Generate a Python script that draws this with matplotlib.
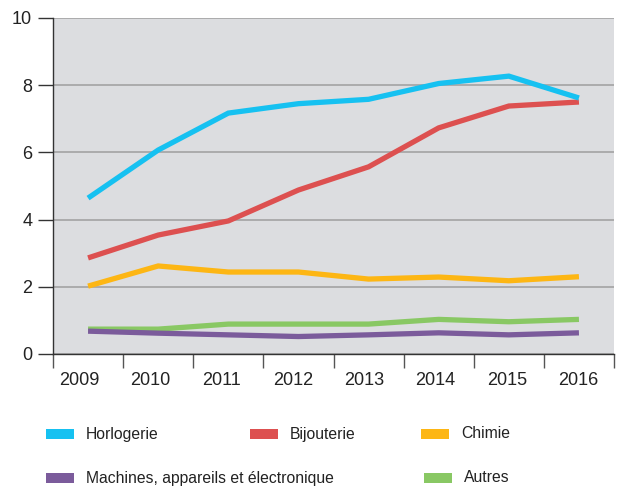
import matplotlib
matplotlib.use("Agg")
import matplotlib.pyplot as plt
from matplotlib.patches import Rectangle
from matplotlib import font_manager

years = ["2009", "2010", "2011", "2012", "2013", "2014", "2015", "2016"]
horlogerie = [4.64, 6.07, 7.17, 7.45, 7.58, 8.05, 8.27, 7.62]
bijouterie = [2.86, 3.54, 3.96, 4.88, 5.57, 6.73, 7.38, 7.50]
chimie = [2.02, 2.62, 2.44, 2.44, 2.23, 2.29, 2.18, 2.30]
machines = [0.68, 0.62, 0.57, 0.52, 0.57, 0.63, 0.57, 0.63]
autres = [0.74, 0.74, 0.89, 0.89, 0.89, 1.03, 0.96, 1.03]

names = ["Horlogerie", "Bijouterie", "Chimie",
         "Machines, appareils et électronique", "Autres"]
colors = ["#16c1f1", "#dd5050", "#fdb614", "#7b5b9b", "#89c864"]
series = [horlogerie, bijouterie, chimie, machines, autres]

plt.rcParams['font.family'] = ['Liberation Sans', 'DejaVu Sans']

installed = {f.name for f in font_manager.fontManager.ttflist}
if 'Liberation Sans Narrow' in installed:
    leg_family = ['Liberation Sans Narrow', 'Liberation Sans']
    leg_size = 13.5
else:
    leg_family = ['Liberation Sans', 'DejaVu Sans']
    leg_size = 11.3

fig = plt.figure(figsize=(6.25, 4.88), dpi=100)
ax = fig.add_axes([53/625, 1-354/488, (614-53)/625, (354-18)/488])
ax.set_facecolor("#dcdde0")

xs = [i + 0.5 for i in range(len(years))]
for idx in [4, 3, 2, 1, 0]:
    ax.plot(xs, series[idx], color=colors[idx], lw=3.8, solid_capstyle='butt',
            solid_joinstyle='miter', zorder=3)

ax.set_xlim(0, 8)
ax.set_ylim(0, 10)
ax.set_yticks([0, 2, 4, 6, 8, 10])
ax.yaxis.grid(True, color="#a3a3a3", lw=1.2)
ax.set_axisbelow(True)
ax.set_xticks(range(0, 9))
ax.set_xticklabels([])
label_x = [0.37 + 1.017 * i for i in range(len(years))]
ax.set_xticks(label_x, minor=True)
ax.set_xticklabels(years, minor=True)
ax.tick_params(axis='x', which='major', length=10, width=1.0, color="#555555")
ax.tick_params(axis='x', which='minor', length=0, pad=13, labelsize=13, labelcolor="#222222")
ax.tick_params(axis='y', length=11, width=1.0, color="#333333", pad=4,
               labelsize=13, labelcolor="#222222")
for s in ["top", "right"]:
    ax.spines[s].set_visible(False)
ax.spines["left"].set_color("#333333")
ax.spines["bottom"].set_color("#333333")
ax.spines["left"].set_linewidth(1.0)
ax.spines["bottom"].set_linewidth(1.0)

leg_pos = [(46, 434), (250, 434), (421, 434), (46, 478), (424, 478)]
for (px, py), name, c in zip(leg_pos, names, colors):
    fig.add_artist(Rectangle((px/625, 1-(py+5)/488), 28/625, 10/488,
                             transform=fig.transFigure, color=c, lw=0))
    fig.text((px+40)/625, 1-py/488, name, fontsize=leg_size, color="#222222",
             va='center', ha='left', family=leg_family)

fig.savefig("out.png", dpi=100)
